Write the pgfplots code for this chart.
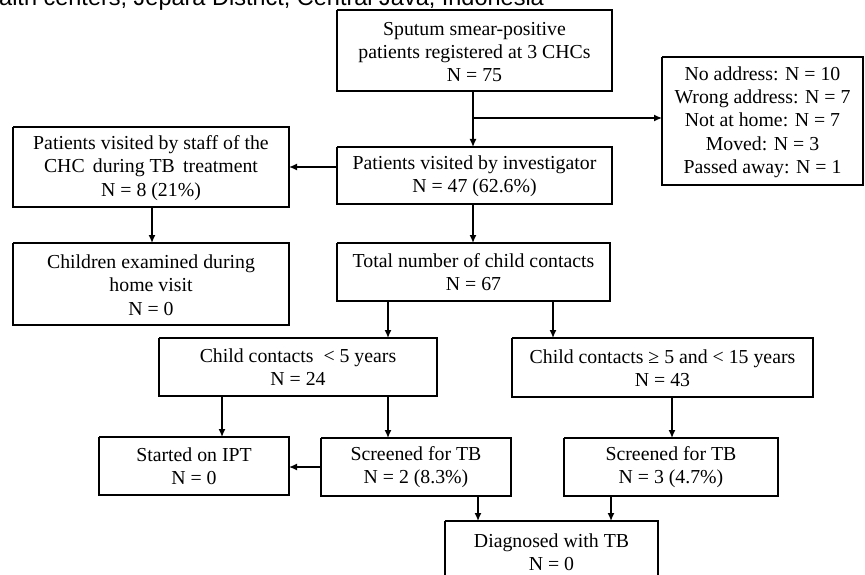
\documentclass[border=0pt]{standalone}
\usepackage{pgfplots}
\pgfplotsset{compat=1.18}
\usepackage{fontspec}
\setmainfont{Liberation Serif}
\newfontfamily\titlefont{Liberation Sans}
\usetikzlibrary{arrows.meta}
\tikzset{
  box/.style={line width=1.4pt, black},
  arr/.style={line width=1.4pt, black, -{Latex[length=8pt,width=7pt]}},
  txt/.style={align=center, font=\fontsize{19.8}{23.3}\selectfont, inner sep=0pt},
}
\begin{document}
\begin{tikzpicture}
\path[use as bounding box] (0,0) rectangle (865pt,575pt);
\clip (0,0) rectangle (865pt,575pt);
\begin{axis}[
  at={(0,0)}, anchor=south west,
  scale only axis, width=865pt, height=575pt,
  xmin=0, xmax=865, ymin=0, ymax=575, y dir=reverse,
  hide axis, clip=false,
]
% boxes
\addplot[box] coordinates {(337,10) (612,10) (612,91) (337,91) (337,10)};
\addplot[box] coordinates {(662,57) (863,57) (863,185) (662,185) (662,57)};
\addplot[box] coordinates {(13,127) (289,127) (289,207) (13,207) (13,127)};
\addplot[box] coordinates {(337,147) (612,147) (612,204) (337,204) (337,147)};
\addplot[box] coordinates {(13,243) (289,243) (289,325) (13,325) (13,243)};
\addplot[box] coordinates {(337,243) (610,243) (610,301) (337,301) (337,243)};
\addplot[box] coordinates {(159,338) (437,338) (437,396) (159,396) (159,338)};
\addplot[box] coordinates {(512,338) (813,338) (813,397) (512,397) (512,338)};
\addplot[box] coordinates {(99,437) (289,437) (289,495) (99,495) (99,437)};
\addplot[box] coordinates {(321,438) (511,438) (511,496) (321,496) (321,438)};
\addplot[box] coordinates {(564,438) (778,438) (778,496) (564,496) (564,438)};
\addplot[box] coordinates {(445,521) (658,521) (658,600) (445,600) (445,521)};
% arrows
\addplot[arr] coordinates {(473,91) (473,147)};
\addplot[arr] coordinates {(473,118) (662,118)};
\addplot[arr] coordinates {(337,167) (289,167)};
\addplot[arr] coordinates {(152,207) (152,243)};
\addplot[arr] coordinates {(473,204) (473,243)};
\addplot[arr] coordinates {(388,301) (388,338)};
\addplot[arr] coordinates {(553,301) (553,338)};
\addplot[arr] coordinates {(222,396) (222,437)};
\addplot[arr] coordinates {(388,396) (388,438)};
\addplot[arr] coordinates {(321,467) (289,467)};
\addplot[arr] coordinates {(672,397) (672,438)};
\addplot[arr] coordinates {(478,496) (478,521)};
\addplot[arr] coordinates {(611,496) (611,521)};
% texts
\node[anchor=base west, inner sep=0pt, font=\titlefont\fontsize{23.5}{26}\selectfont] at (axis cs:-1,6) {alth centers, Jepara District, Central Java, Indonesia};
\node[txt] at (axis cs:474.5,52) {Sputum smear-positive\\patients registered at 3 CHCs\\N = 75};
\node[txt] at (axis cs:762.5,122) {No address: N = 10\\Wrong address: N = 7\\Not at home: N = 7\\Moved: N = 3\\Passed away: N = 1};
\node[txt] at (axis cs:151,168) {Patients visited by staff of the\\CHC\, during TB\, treatment\\N = 8 (21\%)};
\node[txt] at (axis cs:474.5,176) {Patients visited by investigator\\N = 47 (62.6\%)};
\node[txt] at (axis cs:151,285) {Children examined during\\home visit\\N = 0};
\node[txt] at (axis cs:473.5,272) {Total number of child contacts\\N = 67};
\node[txt] at (axis cs:298,367) {Child contacts \ < 5 years\\N = 24};
\node[txt] at (axis cs:662.5,368) {Child contacts ≥ 5 and < 15 years\\N = 43};
\node[txt] at (axis cs:194,466) {Started on IPT\\N = 0};
\node[txt] at (axis cs:416,467) {Screened for TB\\N = 2 (8.3\%)};
\node[txt] at (axis cs:671,467) {Screened for TB\\N = 3 (4.7\%)};
\node[txt] at (axis cs:551.5,552) {Diagnosed with TB\\N = 0};
\end{axis}
\end{tikzpicture}
\end{document}
